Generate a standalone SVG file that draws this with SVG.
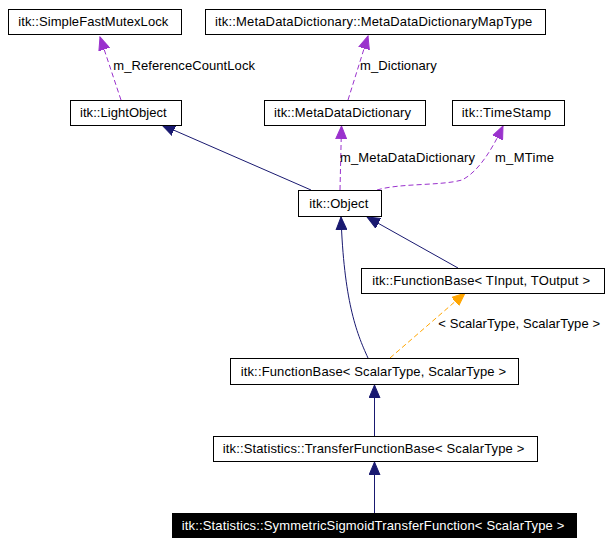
<svg xmlns="http://www.w3.org/2000/svg" width="611" height="546" viewBox="0 0 611 546">
<style>
.box{fill:#ffffff;stroke:#000000;stroke-width:1}
.sel{fill:#000000;stroke:#000000;stroke-width:1}
text{font-family:"Liberation Sans",Arial,Helvetica,sans-serif;font-size:13px;fill:#000000}
.wt{fill:#ffffff}
.inh{fill:none;stroke:#191970;stroke-width:1}
.use{fill:none;stroke:#9a32cd;stroke-width:1;stroke-dasharray:5,3}
.tpl{fill:none;stroke:#ffa500;stroke-width:1;stroke-dasharray:5,3}
</style>
<defs>
<marker id="aInh" markerUnits="userSpaceOnUse" markerWidth="14" markerHeight="12" refX="13" refY="5.5" orient="auto" viewBox="0 0 14 11">
<path d="M0,0 L13,5.5 L0,11 z" fill="#191970" stroke="#191970"/>
</marker>
<marker id="aUse" markerUnits="userSpaceOnUse" markerWidth="14" markerHeight="12" refX="13" refY="5.5" orient="auto" viewBox="0 0 14 11">
<path d="M0,0 L13,5.5 L0,11 z" fill="#9a32cd" stroke="#9a32cd"/>
</marker>
<marker id="aTpl" markerUnits="userSpaceOnUse" markerWidth="14" markerHeight="12" refX="13" refY="5.5" orient="auto" viewBox="0 0 14 11">
<path d="M0,0 L13,5.5 L0,11 z" fill="#ffa500" stroke="#ffa500"/>
</marker>
</defs>
<rect width="611" height="546" fill="#ffffff"/>
<g id="connectors">
<path class="use" d="M121,100 L100,37" marker-end="url(#aUse)"/>
<text x="113.3" y="70" textLength="141.7" lengthAdjust="spacing">m_ReferenceCountLock</text>
<path class="use" d="M348,100 L368,36" marker-end="url(#aUse)"/>
<text x="360" y="70" textLength="76.7" lengthAdjust="spacing">m_Dictionary</text>
<path class="inh" d="M311,190 L162,125" marker-end="url(#aInh)"/>
<path class="use" d="M340,190 L341.5,126" marker-end="url(#aUse)"/>
<text x="340" y="161.7" textLength="135" lengthAdjust="spacing">m_MetaDataDictionary</text>
<path class="use" d="M377,190 C400,183 440,186 462,180 C478,172 492,150 503,126" marker-end="url(#aUse)"/>
<text x="495" y="161.7" textLength="59" lengthAdjust="spacing">m_MTime</text>
<path class="inh" d="M458,268 L367,217" marker-end="url(#aInh)"/>
<path class="inh" d="M368,358 C356,332 344,300 341,217" marker-end="url(#aInh)"/>
<path class="tpl" d="M390,358 L465,293" marker-end="url(#aTpl)"/>
<text x="438.3" y="328.3" textLength="161.7" lengthAdjust="spacing">&lt; ScalarType, ScalarType &gt;</text>
<path class="inh" d="M374.5,436 L374.5,385" marker-end="url(#aInh)"/>
<path class="inh" d="M374.5,513 L374.5,462" marker-end="url(#aInh)"/>
</g>
<g id="node_SimpleFastMutexLock">
<rect class="box" x="8.5" y="9.5" width="173" height="25"/>
<text x="18.3" y="26" textLength="150" lengthAdjust="spacing">itk::SimpleFastMutexLock</text>
</g>
<g id="node_MetaDataDictionaryMapType">
<rect class="box" x="205.5" y="9.5" width="340" height="25"/>
<text x="215" y="26" textLength="317.3" lengthAdjust="spacing">itk::MetaDataDictionary::MetaDataDictionaryMapType</text>
</g>
<g id="node_LightObject">
<rect class="box" x="70.5" y="100.5" width="111" height="25"/>
<text x="80" y="117" textLength="86.7" lengthAdjust="spacing">itk::LightObject</text>
</g>
<g id="node_MetaDataDictionary">
<rect class="box" x="264.5" y="100.5" width="161" height="25"/>
<text x="274" y="117" textLength="137" lengthAdjust="spacing">itk::MetaDataDictionary</text>
</g>
<g id="node_TimeStamp">
<rect class="box" x="452.5" y="100.5" width="112" height="25"/>
<text x="461.7" y="117" textLength="89.3" lengthAdjust="spacing">itk::TimeStamp</text>
</g>
<g id="node_Object">
<rect class="box" x="298.5" y="190.5" width="83" height="26"/>
<text x="309.3" y="207.5" textLength="59" lengthAdjust="spacing">itk::Object</text>
</g>
<g id="node_FunctionBaseTInput">
<rect class="box" x="361.5" y="268.5" width="243" height="25"/>
<text x="372.3" y="285" textLength="217.7" lengthAdjust="spacing">itk::FunctionBase&lt; TInput, TOutput &gt;</text>
</g>
<g id="node_FunctionBaseScalar">
<rect class="box" x="230.5" y="358.5" width="288" height="26"/>
<text x="240.7" y="375.5" textLength="265.3" lengthAdjust="spacing">itk::FunctionBase&lt; ScalarType, ScalarType &gt;</text>
</g>
<g id="node_TransferFunctionBase">
<rect class="box" x="213.5" y="436.5" width="324" height="25"/>
<text x="222.7" y="453" textLength="301.6" lengthAdjust="spacing">itk::Statistics::TransferFunctionBase&lt; ScalarType &gt;</text>
</g>
<g id="node_SymmetricSigmoidTransferFunction">
<rect class="sel" x="172.5" y="513.5" width="404" height="24"/>
<text class="wt" x="181.7" y="530" textLength="382.6" lengthAdjust="spacing">itk::Statistics::SymmetricSigmoidTransferFunction&lt; ScalarType &gt;</text>
</g>
</svg>
